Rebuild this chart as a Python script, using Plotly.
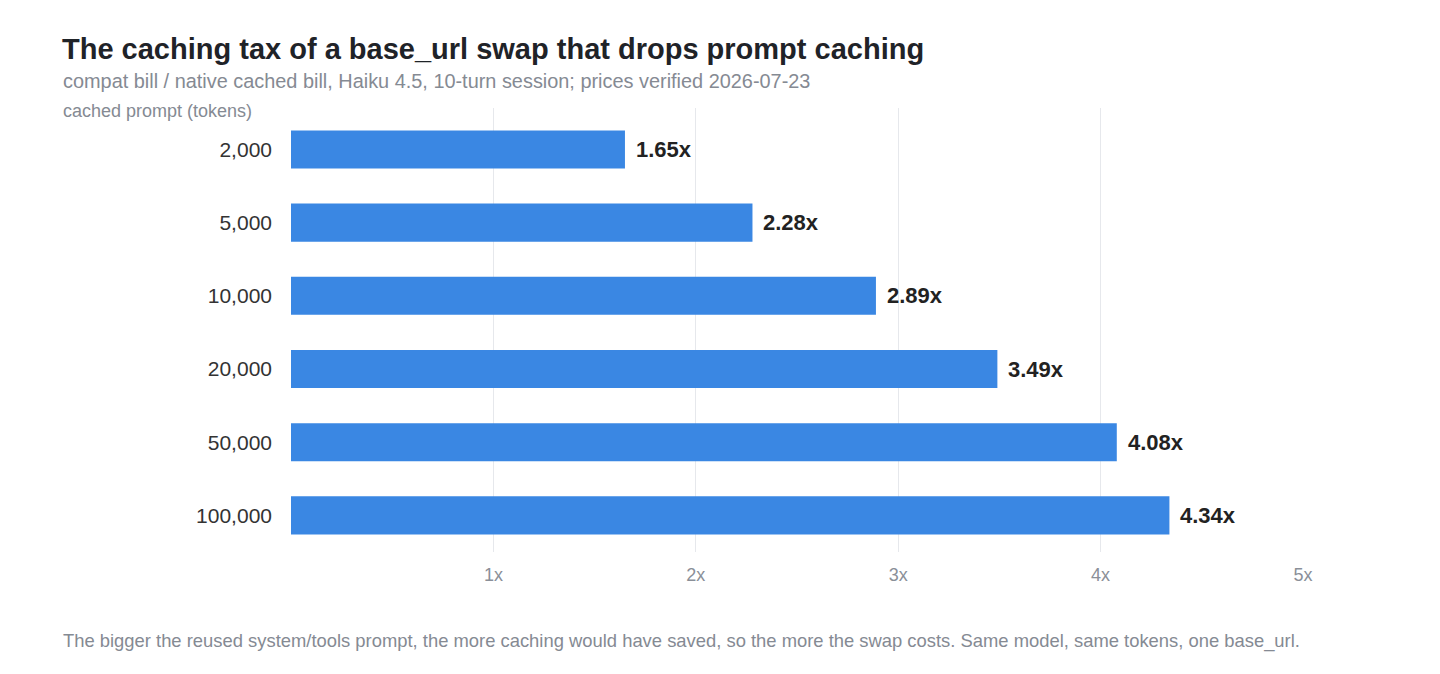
import plotly.graph_objects as go

categories = ["2,000", "5,000", "10,000", "20,000", "50,000", "100,000"]
ratios = [1.65, 2.28, 2.89, 3.49, 4.08, 4.34]
labels = ["1.65x", "2.28x", "2.89x", "3.49x", "4.08x", "4.34x"]
tick_vals = [1, 2, 3, 4, 5]
tick_text = ["1x", "2x", "3x", "4x", "5x"]

W, H = 1440, 674
L, R, T, B = 291, 137, 108, 122
PW, PH = W - L - R, H - T - B
FONT = "Liberation Sans, Arial, Helvetica, sans-serif"

def px_x(x):
    return (x - L) / PW

def px_y(y):
    return (H - B - y) / PH

fig = go.Figure(go.Bar(
    y=categories, x=ratios, orientation="h",
    marker=dict(color="#3a87e3", line=dict(width=0)),
    width=0.52, hoverinfo="skip",
))

annotations = []
for c, v, t in zip(categories, ratios, labels):
    annotations.append(dict(x=v, y=c, xref="x", yref="y", text=t, showarrow=False,
                            xanchor="left", yanchor="middle", xshift=9,
                            font=dict(family=FONT, size=22, color="#222222", weight="bold")))

annotations += [
    dict(xref="paper", yref="paper", x=px_x(61), y=px_y(81), text="compat bill / native cached bill, Haiku 4.5, 10-turn session; prices verified 2026-07-23",
         showarrow=False, xanchor="left", yanchor="middle", font=dict(family=FONT, size=19.9, color="#858a93")),
    dict(xref="paper", yref="paper", x=px_x(61), y=px_y(111), text="cached prompt (tokens)",
         showarrow=False, xanchor="left", yanchor="middle", font=dict(family=FONT, size=18, color="#858a93")),
    dict(xref="paper", yref="paper", x=px_x(61), y=px_y(641), text="The bigger the reused system/tools prompt, the more caching would have saved, so the more the swap costs. Same model, same tokens, one base_url.",
         showarrow=False, xanchor="left", yanchor="middle", font=dict(family=FONT, size=18.4, color="#858a93")),
]

fig.update_layout(
    width=W, height=H,
    margin=dict(l=L, r=R, t=T, b=B, autoexpand=False),
    paper_bgcolor="white", plot_bgcolor="white",
    showlegend=False,
    title=dict(text="<b>The caching tax of a base_url swap that drops prompt caching</b>",
               x=62 / W, xref="container", xanchor="left",
               y=1 - 49 / H, yref="container", yanchor="middle",
               font=dict(family=FONT, size=29, color="#1f2328")),
    xaxis=dict(range=[0, 5], tickvals=tick_vals, ticktext=tick_text,
               showgrid=True, gridcolor="#e6e8ec", gridwidth=1, zeroline=False,
               showline=False, ticks="", ticklabelstandoff=10,
               tickfont=dict(family=FONT, size=18, color="#8a8f98")),
    yaxis=dict(range=[5.5, -0.566], type="category", showgrid=False, zeroline=False,
               showline=False, ticks="", ticklabelstandoff=18,
               tickfont=dict(family=FONT, size=21, color="#333333")),
    annotations=annotations,
)

fig.write_html("out.html")
